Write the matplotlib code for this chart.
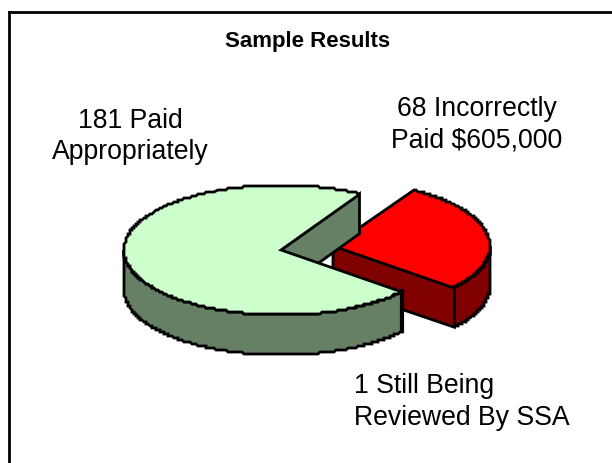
import numpy as np
import matplotlib
matplotlib.use('Agg')
import matplotlib.pyplot as plt

plt.rcParams['font.family'] = ['Liberation Sans', 'DejaVu Sans']

labels = ['181 Paid\nAppropriately', '68 Incorrectly\nPaid $605,000', '1 Still Being\nReviewed By SSA']
values = [181, 68, 1]
title = 'Sample Results'

top_colors = ['#CCFFCC', '#FF0000']
side_colors = ['#668066', '#800000']

# layout in pixels
cx, cy = 281, 250
rx, ry = 157, 65
depth = 40
explode_dx, explode_dy = 52, -4
start_angle = 60.0
grid = 2.0  # the original outline is stair-stepped


def point(a, x0, y0):
    r = np.radians(a)
    return x0 + rx * np.cos(r), y0 - ry * np.sin(r)


def arc(a1, a2, x0, y0):
    t = np.radians(np.linspace(a1, a2, 300))
    xs = x0 + rx * np.cos(t)
    ys = y0 - ry * np.sin(t)
    return np.round(xs / grid) * grid, np.round(ys / grid) * grid


def draw_slice(a1, a2, x0, y0, top, side, wall_from, wall_to, cut):
    # outer wall, only the part facing the viewer
    xs, ys = arc(wall_from, wall_to, x0, y0)
    ax.fill(np.r_[xs, xs[::-1]], np.r_[ys, ys[::-1] + depth], fc=side, ec='black', lw=2)
    # the one cut face that can be seen
    px, py = point(cut, x0, y0)
    ax.fill([x0, px, px, x0], [y0, py, py + depth, y0 + depth], fc=side, ec='black', lw=2)
    xs, ys = arc(a1, a2, x0, y0)
    ax.fill(np.r_[x0, xs], np.r_[y0, ys], fc=top, ec='black', lw=2)


fig = plt.figure(figsize=(6.12, 4.63), dpi=100)
ax = fig.add_axes([0, 0, 1, 1])
ax.set_xlim(0, 612)
ax.set_ylim(463, 0)
ax.axis('off')

sweep = 360.0 * np.array(values) / sum(values)
green_start = start_angle
green_end = green_start + sweep[0]
red_end = green_end + sweep[1]

# red piece goes behind the green one
draw_slice(green_end, red_end, cx + explode_dx, cy + explode_dy, top_colors[1], side_colors[1],
           green_end, 360, green_end)
draw_slice(green_start, green_end, cx, cy, top_colors[0], side_colors[0],
           180, green_end, green_start)

# heavier edge where the green wall ends
ex, ey = point(green_end, cx, cy)
ax.plot([ex, ex], [ey, ey + depth], color='black', lw=3)

# chart area border, runs off the right and bottom of the image
ax.plot([8.5, 8.5], [463, 11.5], color='black', lw=2, solid_joinstyle='miter')
ax.plot([8.5, 612], [11.5, 11.5], color='black', lw=2)

ax.text(308, 42, title, ha='center', va='center', fontsize=16, fontweight='bold')
ax.text(130, 136.5, labels[0], ha='center', va='center', fontsize=19.2, linespacing=1.28)
ax.text(477, 124.5, labels[1], ha='center', va='center', fontsize=19.2, linespacing=1.28)
ax.text(354, 402, labels[2], ha='left', va='center', fontsize=19.2, linespacing=1.28)

plt.savefig('out.png', dpi=100)
